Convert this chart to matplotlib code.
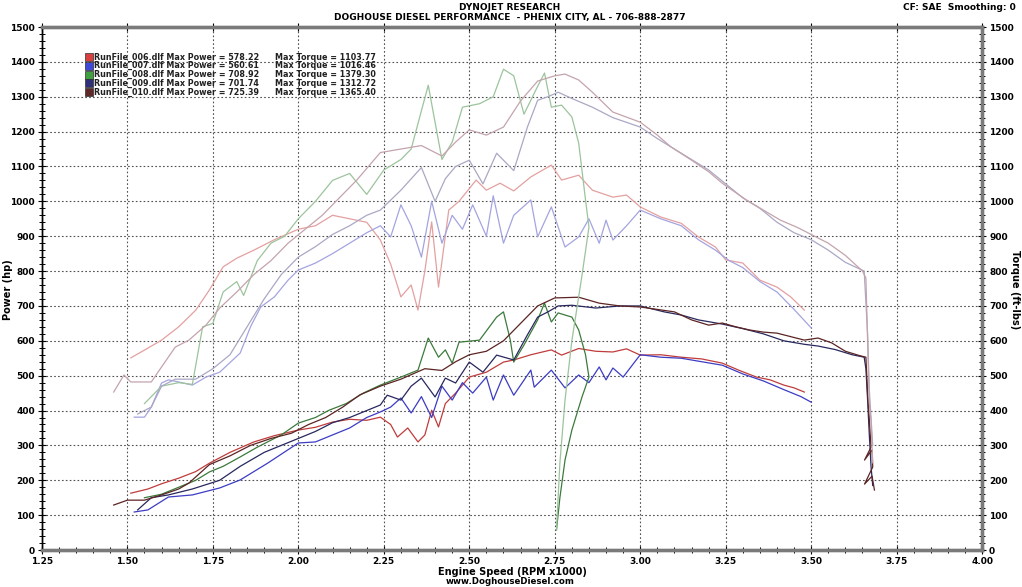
"""
Dyno sheet: five runs, power (left axis) and torque (right axis) vs engine speed.
"""
import matplotlib.pyplot as plt
from matplotlib.ticker import MultipleLocator

# ── Data ──────────────────────────────────────────────────────────────────────
RUNS       = ["RunFile_006.dlf", "RunFile_007.dlf", "RunFile_008.dlf",
              "RunFile_009.dlf", "RunFile_010.dlf"]
MAX_POWER  = [578.22, 560.61, 708.92, 701.74, 725.39]
MAX_TORQUE = [1103.77, 1016.46, 1379.30, 1312.72, 1365.40]

# run 006
rpm_006_hp = [1.51, 1.56, 1.60, 1.65, 1.70, 1.74, 1.80, 1.87, 1.93, 2.00, 2.05, 2.10,
              2.15, 2.20, 2.24, 2.27, 2.29, 2.32, 2.35, 2.37, 2.39, 2.41, 2.43, 2.46,
              2.50, 2.55, 2.60, 2.63, 2.68, 2.74, 2.77, 2.82, 2.87, 2.92, 2.96, 3.00,
              3.06, 3.12, 3.18, 3.24, 3.29, 3.34, 3.38, 3.42, 3.45, 3.48]
hp_006     = [163, 175, 190, 206, 225, 249, 280, 310, 328, 344, 352, 367,
              375, 372, 381, 360, 324, 350, 310, 330, 401, 353, 420, 450,
              496, 510, 539, 545, 560, 574, 559, 578, 570, 568, 577, 559,
              560, 553, 548, 536, 515, 496, 488, 473, 465, 453]
rpm_006_tq = [1.51, 1.56, 1.60, 1.65, 1.70, 1.74, 1.78, 1.82, 1.87, 1.93, 2.00, 2.05,
              2.10, 2.15, 2.20, 2.24, 2.27, 2.30, 2.33, 2.35, 2.37, 2.39, 2.41, 2.44,
              2.47, 2.52, 2.55, 2.59, 2.63, 2.68, 2.74, 2.77, 2.82, 2.86, 2.92, 2.96,
              3.00, 3.06, 3.12, 3.17, 3.22, 3.25, 3.30, 3.35, 3.40, 3.44, 3.48]
tq_006     = [551, 579, 602, 640, 688, 746, 812, 837, 860, 890, 920, 930,
              960, 950, 940, 889, 820, 726, 760, 688, 800, 941, 754, 975,
              1000, 1061, 1032, 1052, 1030, 1070, 1104, 1061, 1075, 1032, 1012, 1018,
              984, 955, 937, 898, 869, 832, 823, 774, 754, 726, 688]

# run 007
rpm_007_hp = [1.52, 1.56, 1.62, 1.69, 1.77, 1.83, 1.91, 2.00, 2.05, 2.10, 2.15, 2.20,
              2.24, 2.27, 2.30, 2.33, 2.36, 2.39, 2.42, 2.45, 2.48, 2.51, 2.55, 2.57,
              2.60, 2.63, 2.68, 2.69, 2.74, 2.78, 2.82, 2.85, 2.88, 2.90, 2.92, 2.95,
              3.00, 3.06, 3.12, 3.18, 3.24, 3.30, 3.36, 3.42, 3.47, 3.50]
hp_007     = [109, 115, 152, 158, 178, 201, 249, 307, 310, 330, 350, 380,
              396, 410, 436, 393, 440, 380, 470, 430, 480, 450, 496, 430,
              502, 444, 516, 467, 516, 465, 502, 480, 525, 488, 522, 496,
              560, 553, 550, 540, 530, 505, 485, 460, 440, 424]
rpm_007_tq = [1.52, 1.55, 1.57, 1.60, 1.62, 1.65, 1.69, 1.73, 1.77, 1.83, 1.86, 1.89,
              1.93, 1.97, 2.00, 2.05, 2.10, 2.15, 2.20, 2.24, 2.27, 2.30, 2.33, 2.36,
              2.39, 2.42, 2.45, 2.48, 2.51, 2.55, 2.57, 2.60, 2.63, 2.68, 2.70, 2.74,
              2.78, 2.82, 2.85, 2.88, 2.90, 2.92, 2.96, 3.00, 3.06, 3.12, 3.17, 3.22,
              3.26, 3.30, 3.35, 3.40, 3.45, 3.50]
tq_007     = [381, 381, 410, 479, 488, 482, 473, 496, 510, 565, 640, 697,
              726, 774, 803, 823, 850, 880, 910, 930, 898, 990, 930, 840,
              1000, 880, 960, 920, 990, 900, 1016, 880, 960, 1004, 898, 984,
              869, 898, 950, 880, 946, 889, 930, 975, 950, 930, 890, 860,
              830, 810, 770, 740, 690, 637]

# run 008 (run aborted, rpm falls back at the end)
rpm_008_hp = [1.55, 1.60, 1.65, 1.70, 1.74, 1.78, 1.83, 1.88, 1.95, 2.00, 2.05, 2.09,
              2.14, 2.19, 2.24, 2.30, 2.35, 2.38, 2.41, 2.43, 2.45, 2.47, 2.53, 2.58,
              2.60, 2.62, 2.63, 2.66, 2.70, 2.72, 2.74, 2.76, 2.80, 2.82, 2.84, 2.85,
              2.83, 2.80, 2.78, 2.765, 2.755]
hp_008     = [150, 160, 180, 200, 224, 240, 267, 295, 330, 364, 380, 401,
              420, 450, 473, 496, 516, 608, 553, 574, 536, 596, 602, 668,
              683, 602, 539, 588, 660, 708, 654, 680, 668, 631, 560, 496,
              440, 344, 258, 150, 57]
rpm_008_tq = [1.55, 1.60, 1.65, 1.69, 1.72, 1.75, 1.78, 1.82, 1.84, 1.88, 1.92, 1.96,
              2.00, 2.05, 2.10, 2.15, 2.20, 2.25, 2.30, 2.33, 2.38, 2.42, 2.45, 2.48,
              2.53, 2.57, 2.60, 2.63, 2.66, 2.70, 2.72, 2.74, 2.77, 2.80, 2.82, 2.84,
              2.85, 2.83, 2.80, 2.78, 2.765, 2.755]
tq_008     = [420, 470, 480, 475, 640, 650, 740, 770, 730, 830, 880, 900,
              950, 1000, 1060, 1080, 1020, 1090, 1120, 1150, 1333, 1120, 1170, 1270,
              1280, 1300, 1379, 1360, 1250, 1330, 1368, 1270, 1276, 1242, 1167, 1004,
              926, 790, 600, 430, 250, 57]

# run 009
rpm_009_hp = [1.53, 1.57, 1.62, 1.69, 1.77, 1.83, 1.90, 2.00, 2.05, 2.10, 2.15, 2.20,
              2.24, 2.26, 2.30, 2.33, 2.36, 2.40, 2.43, 2.46, 2.50, 2.54, 2.58, 2.63,
              2.67, 2.70, 2.73, 2.76, 2.80, 2.87, 2.94, 3.00, 3.07, 3.12, 3.17, 3.24,
              3.30, 3.36, 3.42, 3.48, 3.52, 3.57, 3.62, 3.655, 3.66, 3.665, 3.67, 3.675,
              3.68]
hp_009     = [115, 150, 158, 175, 200, 240, 280, 320, 340, 365, 380, 400,
              416, 444, 430, 470, 493, 439, 493, 479, 539, 510, 559, 545,
              617, 668, 683, 700, 702, 694, 700, 700, 683, 674, 660, 648,
              635, 620, 600, 590, 585, 575, 560, 553, 520, 430, 330, 240,
              185]
rpm_009_tq = [1.53, 1.57, 1.60, 1.64, 1.70, 1.75, 1.80, 1.85, 1.90, 1.95, 2.00, 2.05,
              2.10, 2.15, 2.20, 2.24, 2.30, 2.36, 2.40, 2.43, 2.46, 2.50, 2.54, 2.58,
              2.63, 2.67, 2.70, 2.73, 2.76, 2.80, 2.86, 2.92, 3.00, 3.05, 3.10, 3.15,
              3.20, 3.25, 3.30, 3.35, 3.40, 3.45, 3.50, 3.55, 3.60, 3.655, 3.665, 3.67,
              3.675, 3.68]
tq_009     = [390, 410, 470, 490, 490, 520, 560, 640, 720, 790, 840, 870,
              905, 930, 960, 975, 1032, 1097, 1000, 1065, 1100, 1118, 1050, 1138,
              1088, 1213, 1290, 1300, 1313, 1295, 1270, 1240, 1213, 1180, 1150, 1120,
              1090, 1050, 1010, 980, 940, 910, 890, 860, 825, 800, 620, 460,
              380, 300]

# run 010
rpm_010_hp = [1.46, 1.50, 1.55, 1.60, 1.65, 1.68, 1.74, 1.80, 1.86, 1.92, 1.98, 2.03,
              2.08, 2.13, 2.18, 2.24, 2.30, 2.37, 2.42, 2.46, 2.50, 2.55, 2.60, 2.65,
              2.70, 2.75, 2.82, 2.88, 2.94, 3.00, 3.05, 3.10, 3.15, 3.20, 3.24, 3.28,
              3.32, 3.36, 3.40, 3.44, 3.48, 3.52, 3.56, 3.60, 3.64, 3.66, 3.665, 3.67,
              3.675, 3.656, 3.678, 3.68, 3.656, 3.678, 3.685]
hp_010     = [129, 143, 143, 158, 175, 192, 245, 270, 300, 320, 335, 360,
              380, 410, 445, 470, 490, 520, 515, 540, 560, 570, 600, 650,
              700, 723, 725, 708, 700, 697, 690, 683, 660, 645, 651, 640,
              631, 625, 622, 612, 602, 608, 594, 570, 558, 553, 450, 373,
              295, 258, 287, 238, 189, 212, 172]
rpm_010_tq = [1.46, 1.49, 1.51, 1.57, 1.60, 1.64, 1.68, 1.73, 1.77, 1.82, 1.87, 1.92,
              1.97, 2.02, 2.07, 2.12, 2.17, 2.24, 2.30, 2.36, 2.42, 2.46, 2.50, 2.55,
              2.60, 2.65, 2.70, 2.75, 2.78, 2.82, 2.86, 2.92, 3.00, 3.05, 3.09, 3.15,
              3.20, 3.24, 3.31, 3.36, 3.41, 3.46, 3.50, 3.55, 3.60, 3.65, 3.66, 3.665,
              3.67, 3.675, 3.68]
tq_010     = [453, 502, 482, 482, 525, 582, 602, 645, 694, 740, 790, 830,
              880, 920, 960, 1010, 1060, 1140, 1150, 1160, 1130, 1170, 1205, 1190,
              1213, 1288, 1345, 1360, 1365, 1348, 1313, 1256, 1227, 1190, 1156, 1118,
              1085, 1052, 1004, 975, 946, 925, 905, 880, 845, 800, 780, 600,
              420, 370, 250]

POWER  = [(rpm_006_hp, hp_006), (rpm_007_hp, hp_007), (rpm_008_hp, hp_008),
          (rpm_009_hp, hp_009), (rpm_010_hp, hp_010)]
TORQUE = [(rpm_006_tq, tq_006), (rpm_007_tq, tq_007), (rpm_008_tq, tq_008),
          (rpm_009_tq, tq_009), (rpm_010_tq, tq_010)]

# ── Style ─────────────────────────────────────────────────────────────────────
PWR_COL = ["#c03c3c", "#3c3cc4", "#3c7a3c", "#28285e", "#5c2424"]
TQ_COL  = ["#e4a0a0", "#a4a4e0", "#9cc49c", "#aaa8c4", "#c4a4ac"]
KEY_COL = ["#d84040", "#4048d8", "#40a040", "#303078", "#602828"]
AXGREY  = "#7a7a7a"
FONT    = dict(family="DejaVu Sans", fontweight="bold")

plt.rcParams.update({"font.family": "DejaVu Sans", "font.size": 6.5})

fig = plt.figure(figsize=(10.22, 5.87), dpi=100, facecolor="white")
ax = fig.add_axes([0.041, 0.063, 0.920, 0.891])
ax2 = ax.twinx()

for (rpm, val), c in zip(POWER, PWR_COL):
    ax.plot(rpm, val, color=c, lw=0.9, zorder=3)
for (rpm, val), c in zip(TORQUE, TQ_COL):
    ax2.plot(rpm, val, color=c, lw=0.9, zorder=2)

# ── Axes ──────────────────────────────────────────────────────────────────────
for a in (ax, ax2):
    a.set_xlim(1.25, 4.00)
    a.set_ylim(0, 1500)
    a.yaxis.set_major_locator(MultipleLocator(100))
    a.yaxis.set_minor_locator(MultipleLocator(20))
ax.xaxis.set_major_locator(MultipleLocator(0.25))
ax.xaxis.set_minor_locator(MultipleLocator(0.05))
ax.xaxis.set_major_formatter(plt.FuncFormatter(lambda v, p: f"{v:.2f}"))

ax.grid(True, which="major", color="#505050", lw=0.8, linestyle=(0, (1.5, 2)))
ax.set_axisbelow(True)

ax.tick_params(axis="both", which="major", direction="inout", length=6, width=0.8,
               labelsize=6.5, pad=2)
ax.tick_params(axis="both", which="minor", direction="inout", length=4, width=0.7)
ax.tick_params(axis="x", which="major", top=True)
ax.tick_params(axis="x", which="minor", top=False)
ax2.tick_params(axis="y", which="major", direction="inout", length=6, width=0.8,
                labelsize=6.5, pad=2)
ax2.tick_params(axis="y", which="minor", direction="inout", length=4, width=0.7)
for lab in ax.get_xticklabels() + ax.get_yticklabels() + ax2.get_yticklabels():
    lab.set_fontweight("bold")

for a in (ax, ax2):
    for side in ("bottom", "right", "top"):
        a.spines[side].set_color(AXGREY)
        a.spines[side].set_linewidth(2.4)
    a.spines["left"].set_color("black")
    a.spines["left"].set_linewidth(1.0)

ax.set_xlabel("Engine Speed (RPM x1000)", labelpad=1, fontsize=7, **FONT)
fig.text(0.008, 0.506, "Power (hp)", rotation=90, ha="center", va="center",
         fontsize=7, **FONT)
fig.text(0.993, 0.506, "Torque (ft-lbs)", rotation=-90, ha="center", va="center",
         fontsize=7, **FONT)

# ── Key ───────────────────────────────────────────────────────────────────────
for i, (name, mp, mt) in enumerate(zip(RUNS, MAX_POWER, MAX_TORQUE)):
    yy = 0.9426 - i * 0.0168
    ax2.plot([0.050], [yy], marker="s", ms=5.5, mfc=KEY_COL[i], mec="#303030",
             mew=0.5, transform=ax2.transAxes, clip_on=False, zorder=6)
    ax2.text(0.0555, yy, f"{name} Max Power = {mp:.2f}", transform=ax2.transAxes,
             va="center", ha="left", fontsize=5.8, color="#202020", zorder=6, **FONT)
    ax2.text(0.2475, yy, f"Max Torque = {mt:.2f}", transform=ax2.transAxes,
             va="center", ha="left", fontsize=5.8, color="#202020", zorder=6, **FONT)

# ── Header / footer ───────────────────────────────────────────────────────────
fig.text(0.499, 0.988, "DYNOJET RESEARCH", ha="center", va="center", fontsize=6.5, **FONT)
fig.text(0.499, 0.971, "DOGHOUSE DIESEL PERFORMANCE  - PHENIX CITY, AL - 706-888-2877",
         ha="center", va="center", fontsize=6.5, **FONT)
fig.text(0.994, 0.988, "CF: SAE  Smoothing: 0", ha="right", va="center", fontsize=6.5, **FONT)
fig.text(0.499, 0.010, "www.DoghouseDiesel.com", ha="center", va="center", fontsize=6.2, **FONT)

fig.savefig("out.png", dpi=100, facecolor="white")
